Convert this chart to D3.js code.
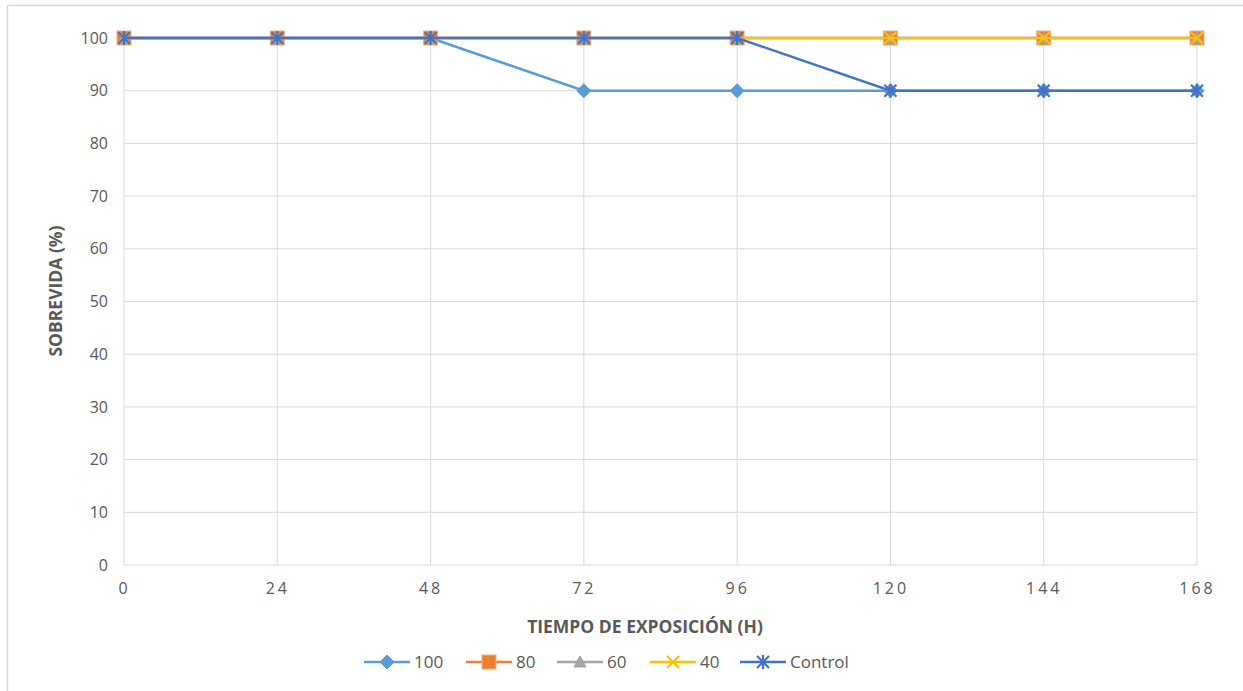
<!DOCTYPE html>
<html><head><meta charset="utf-8">
<script src="https://cdn.jsdelivr.net/npm/d3@7"></script>
<style>body{margin:0;background:#fff;} text{font-family:"Open Sans","Liberation Sans",sans-serif;}</style>
</head><body>
<svg id="c" width="1243" height="691"></svg>
<script>
const hours = [0, 24, 48, 72, 96, 120, 144, 168];
const yTicks = [0, 10, 20, 30, 40, 50, 60, 70, 80, 90, 100];
const seriesNames = ["100", "80", "60", "40", "Control"];
const s100 = [100, 100, 100, 90, 90, 90, 90, 90];
const s80 = [100, 100, 100, 100, 100, 100, 100, 100];
const s60 = [100, 100, 100, 100, 100, 100, 100, 100];
const s40 = [100, 100, 100, 100, 100, 100, 100, 100];
const sControl = [100, 100, 100, 100, 100, 90, 90, 90];
const colors = ["#5B9BD5", "#ED7D31", "#A5A5A5", "#FFC000", "#4472C4"];
const markers = ["diamond", "square", "triangle", "x", "star"];
const allSeries = [s100, s80, s60, s40, sControl];

const svg = d3.select("#c");
svg.append("rect").attr("x", 7.5).attr("y", 5.5).attr("width", 1240).attr("height", 690)
  .attr("fill", "#fff").attr("stroke", "#d9d9d9").attr("stroke-width", 1.5);

const x = d3.scaleLinear().domain([0, 168]).range([124, 1197]);
const y = d3.scaleLinear().domain([0, 100]).range([565, 38]);

// gridlines
const g = svg.append("g");
g.selectAll(".hg").data(yTicks).enter().append("line")
  .attr("x1", x(0)).attr("x2", x(168)).attr("y1", d => y(d)).attr("y2", d => y(d))
  .attr("stroke", "#d9d9d9").attr("stroke-width", 1);
g.selectAll(".vg").data(hours).enter().append("line")
  .attr("x1", d => x(d)).attr("x2", d => x(d)).attr("y1", y(0)).attr("y2", y(100))
  .attr("stroke", "#d9d9d9").attr("stroke-width", 1);

const yAxis = svg.append("g").attr("transform", `translate(${x(0)},0)`)
  .call(d3.axisLeft(y).tickValues(yTicks).tickSize(0).tickPadding(16));
yAxis.select(".domain").remove();
yAxis.selectAll("text").attr("font-size", 16).attr("fill", "#595959")
  .attr("font-family", "'Open Sans','Liberation Sans',sans-serif");

const xAxis = svg.append("g").attr("transform", `translate(0,${y(0)})`)
  .call(d3.axisBottom(x).tickValues(hours).tickSize(0).tickPadding(18).tickFormat(d => String(d)));
xAxis.select(".domain").remove();
xAxis.selectAll("text").attr("font-size", 16).attr("fill", "#595959").attr("letter-spacing", "3px")
  .attr("font-family", "'Open Sans','Liberation Sans',sans-serif");

svg.append("text").attr("x", 645).attr("y", 633).attr("text-anchor", "middle")
  .attr("font-size", 17.5).attr("font-weight", "bold").attr("fill", "#595959")
  .text("TIEMPO DE EXPOSICIÓN (H)");
svg.append("text").attr("transform", `translate(62,291) rotate(-90)`).attr("text-anchor", "middle")
  .attr("font-size", 17.5).attr("font-weight", "bold").attr("fill", "#595959")
  .text("SOBREVIDA (%)");

function drawMarker(sel, type, color, cx, cy) {
  const m = sel.append("g").attr("transform", `translate(${cx},${cy})`);
  if (type === "diamond") {
    m.append("path").attr("d", "M0,-7L7,0L0,7L-7,0Z").attr("fill", color).attr("stroke", color);
  } else if (type === "square") {
    m.append("rect").attr("x", -7).attr("y", -7).attr("width", 14).attr("height", 14)
      .attr("fill", color).attr("stroke", "#F4B183").attr("stroke-width", 1);
  } else if (type === "triangle") {
    m.append("path").attr("d", "M0,-6L6,5L-6,5Z").attr("fill", color).attr("stroke", color);
  } else if (type === "x") {
    m.append("path").attr("d", "M-6,-6L6,6M-6,6L6,-6").attr("stroke", color).attr("stroke-width", 2.2).attr("fill", "none");
  } else if (type === "star") {
    m.append("path").attr("d", "M-6,-6L6,6M-6,6L6,-6M0,-7L0,7").attr("stroke", color).attr("stroke-width", 2.2).attr("fill", "none");
  }
}

const widths = [2.5, 2.5, 2.5, 2, 2.5];
const line = d3.line().x((d, i) => x(hours[i])).y(d => y(d));
allSeries.forEach((s, k) => {
  svg.append("path").datum(s).attr("d", line).attr("fill", "none")
    .attr("stroke", colors[k]).attr("stroke-width", widths[k]);
  const mg = svg.append("g");
  s.forEach((v, i) => drawMarker(mg, markers[k], colors[k], x(hours[i]), y(v)));
});

const legX = [364, 466, 557, 650, 740];
seriesNames.forEach((n, k) => {
  const lg = svg.append("g");
  lg.append("line").attr("x1", legX[k]).attr("x2", legX[k] + 46).attr("y1", 662).attr("y2", 662)
    .attr("stroke", colors[k]).attr("stroke-width", 2.5);
  drawMarker(lg, markers[k], colors[k], legX[k] + 23, 662);
  lg.append("text").attr("x", legX[k] + 50).attr("y", 668).attr("font-size", 17)
    .attr("fill", "#595959").text(n);
});
</script>
</body></html>
